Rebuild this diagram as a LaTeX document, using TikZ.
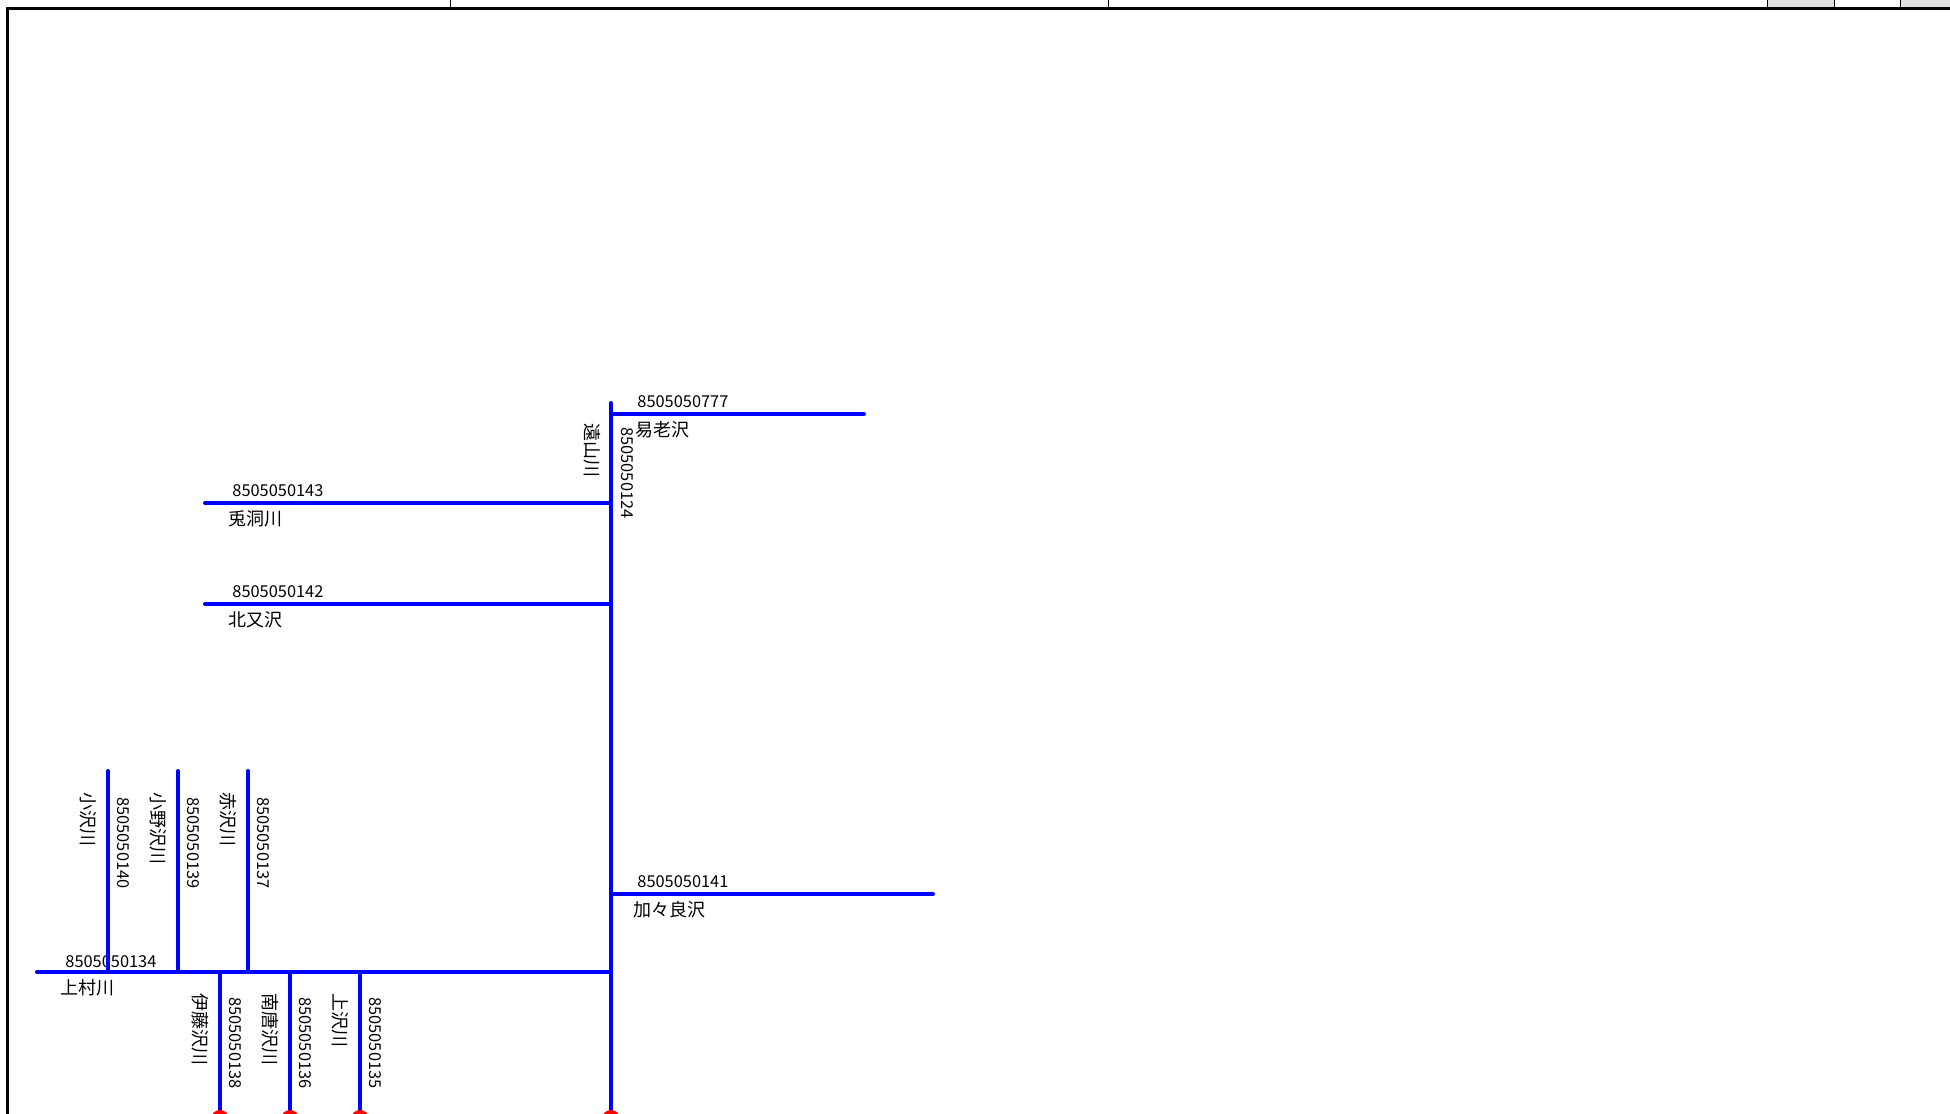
\documentclass[tikz,border=0pt]{standalone}
\usepackage{fontspec}
\setmainfont{Noto Sans CJK JP}
\tikzset{river/.style={blue,line width=2pt,line cap=round}}
\tikzset{lbl/.style={inner sep=0pt,font=\fontsize{8.2}{10}\selectfont}}
\tikzset{jlbl/.style={inner sep=0pt,font=\fontsize{9}{10}\selectfont}}
\newcommand*{\outlet}[1]
  {\fill[red] (#1) circle (4.5pt)}

\begin{document}
\begin{tikzpicture}[x=0.5pt,y=-0.5pt]
\useasboundingbox (0,0) rectangle (1950,1114);
% sheet frame
\fill[gray!25] (1767,0) rectangle (1834,7);
\fill[gray!25] (1900,0) rectangle (1950,7);
\foreach \xx in {450,1108,1767,1834,1900}
  \draw[line width=0.5pt] (\xx,0) -- (\xx,7);
\draw[line width=1.5pt] (6,8.5) -- (1950,8.5);
\draw[line width=1.5pt] (7.5,8.5) -- (7.5,1114);
% main river
\coordinate (M0) at (611,403);
\coordinate (M1) at (611,1119);
\draw[river] (M0) -- (M1);
\node[lbl,rotate=-90,anchor=west] (t124) at (627,427) {8505050124};
\node[jlbl,rotate=-90,anchor=west] (n124) at (592,423) {遠山川};
% side rivers
\coordinate (J777) at (611,414);
\coordinate (E777) at (864,414);
\draw[river] (J777) -- (E777);
\node[lbl,anchor=west] (t777) at (637,402) {8505050777};
\node[jlbl,anchor=west] (n777) at (635,430) {易老沢};
\coordinate (J143) at (611,503);
\coordinate (E143) at (205,503);
\draw[river] (J143) -- (E143);
\node[lbl,anchor=west] (t143) at (232,491) {8505050143};
\node[jlbl,anchor=west] (n143) at (228,519) {兎洞川};
\coordinate (J142) at (611,604);
\coordinate (E142) at (205,604);
\draw[river] (J142) -- (E142);
\node[lbl,anchor=west] (t142) at (232,592) {8505050142};
\node[jlbl,anchor=west] (n142) at (228,620) {北又沢};
\coordinate (J141) at (611,894);
\coordinate (E141) at (933,894);
\draw[river] (J141) -- (E141);
\node[lbl,anchor=west] (t141) at (637,882) {8505050141};
\node[jlbl,anchor=west] (n141) at (633,910) {加々良沢};
\coordinate (J134) at (611,972);
\coordinate (E134) at (37,972);
\draw[river] (J134) -- (E134);
\node[lbl,anchor=west] (t134) at (65,962) {8505050134};
\node[jlbl,anchor=west] (n134) at (60,988) {上村川};
% tributaries of 上村川
\foreach \xx/\code/\name in {108/140/小沢川,178/139/小野沢川,248/137/赤沢川} {
  \coordinate (J\code) at (\xx,972);
  \coordinate (E\code) at (\xx,771);
  \draw[river] (J\code) -- (E\code);
  \node[lbl,rotate=-90,anchor=west] (t\code) at (\xx+15,797) {8505050\code};
  \node[jlbl,rotate=-90,anchor=west] (n\code) at (\xx-20,792) {\name};
}
\foreach \xx/\code/\name in {220/138/伊藤沢川,290/136/南唐沢川,360/135/上沢川} {
  \coordinate (J\code) at (\xx,972);
  \coordinate (E\code) at (\xx,1119);
  \draw[river] (J\code) -- (E\code);
  \node[lbl,rotate=-90,anchor=west] (t\code) at (\xx+15,997) {8505050\code};
  \node[jlbl,rotate=-90,anchor=west] (n\code) at (\xx-20,993) {\name};
  \outlet{E\code};
}
\outlet{M1};
\end{tikzpicture}
\end{document}
